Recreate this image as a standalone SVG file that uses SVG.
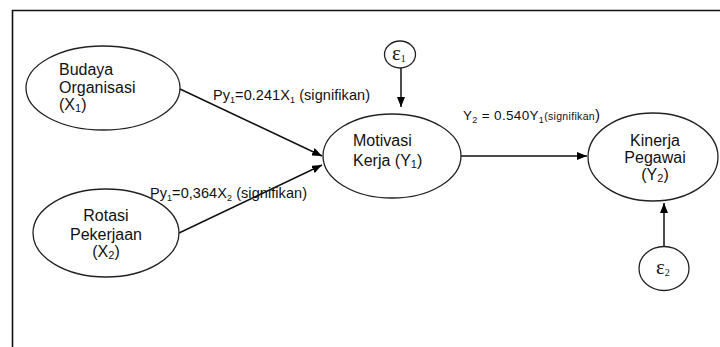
<svg xmlns="http://www.w3.org/2000/svg" width="720" height="347" viewBox="0 0 720 347">
<defs>
<marker id="ah" markerWidth="10" markerHeight="8" refX="10" refY="4" orient="auto" markerUnits="userSpaceOnUse">
<path d="M0,0 L10,4 L0,8 Z" fill="#000"/>
</marker>
<style>
.node{fill:#fff;stroke:#222;stroke-width:1.3}
.t{font-family:"Liberation Sans",Arial,sans-serif;font-size:16px;fill:#111}
.lbl{font-family:"Liberation Sans",Arial,sans-serif;font-size:14.5px;fill:#111}
.eps{font-family:"Liberation Serif","DejaVu Serif",serif;font-size:21px;fill:#111}
.c{text-anchor:middle}
.conn{stroke:#111;stroke-width:1.5;fill:none;marker-end:url(#ah)}
.sub{font-size:9px}
</style>
</defs>
<rect width="720" height="347" fill="#fff"/>
<path d="M12.5,347 V10.5 H720" fill="none" stroke="#111" stroke-width="1.6"/>

<g id="connectors">
<line class="conn" x1="180" y1="89" x2="322" y2="156"/>
<line class="conn" x1="179" y1="233" x2="322" y2="165"/>
<line class="conn" x1="461" y1="156" x2="587" y2="156"/>
<line class="conn" x1="401" y1="68" x2="401" y2="107"/>
<line class="conn" x1="664" y1="247" x2="664" y2="203"/>
</g>

<g id="labels">
<text class="lbl" x="213" y="100" textLength="157">Py<tspan class="sub" dy="3">1</tspan><tspan dy="-3">=0.241X</tspan><tspan class="sub" dy="3">1</tspan><tspan dy="-3"> (signifikan)</tspan></text>
<text class="lbl" x="150" y="198" textLength="157">Py<tspan class="sub" dy="3">1</tspan><tspan dy="-3">=0,364X</tspan><tspan class="sub" dy="3">2</tspan><tspan dy="-3"> (signifikan)</tspan></text>
<text class="lbl" x="463" y="120" style="font-size:13.5px" textLength="137">Y<tspan class="sub" dy="3">2</tspan><tspan dy="-3"> = 0.540Y</tspan><tspan class="sub" dy="3">1</tspan><tspan dy="-3" style="font-size:10.5px">(signifikan</tspan><tspan style="font-size:15px">)</tspan></text>
</g>

<g id="budaya">
<ellipse class="node" cx="103" cy="88" rx="77" ry="42"/>
<text class="t" x="59" y="75">Budaya</text>
<text class="t" x="59" y="92.5">Organisasi</text>
<text class="t" x="59" y="110">(X<tspan class="sub" dy="2" style="font-size:11px">1</tspan><tspan dy="-2">)</tspan></text>
</g>

<g id="rotasi">
<ellipse class="node" cx="106" cy="233" rx="73" ry="44"/>
<text class="t c" x="106" y="221">Rotasi</text>
<text class="t c" x="106" y="239.5">Pekerjaan</text>
<text class="t c" x="106" y="257">(X<tspan class="sub" dy="2" style="font-size:11px">2</tspan><tspan dy="-2">)</tspan></text>
</g>

<g id="motivasi">
<ellipse class="node" cx="392" cy="156" rx="69" ry="42"/>
<text class="t" x="353" y="146">Motivasi</text>
<text class="t" x="353" y="165.5">Kerja (Y<tspan class="sub" dy="2" style="font-size:11px">1</tspan><tspan dy="-2">)</tspan></text>
</g>

<g id="kinerja">
<ellipse class="node" cx="653" cy="157" rx="65" ry="44"/>
<text class="t c" x="655" y="146">Kinerja</text>
<text class="t c" x="655" y="162.5">Pegawai</text>
<text class="t c" x="655" y="180">(Y<tspan class="sub" dy="2" style="font-size:11px">2</tspan><tspan dy="-2">)</tspan></text>
</g>

<g id="e1">
<ellipse class="node" cx="400" cy="54.5" rx="15.5" ry="13.5"/>
<text class="eps" x="392" y="60">ε<tspan dy="2" style="font-size:10px">1</tspan></text>
</g>

<g id="e2">
<ellipse class="node" cx="664" cy="268.5" rx="25" ry="22"/>
<text class="eps" x="656" y="274">ε<tspan dy="2" style="font-size:10px">2</tspan></text>
</g>
</svg>
